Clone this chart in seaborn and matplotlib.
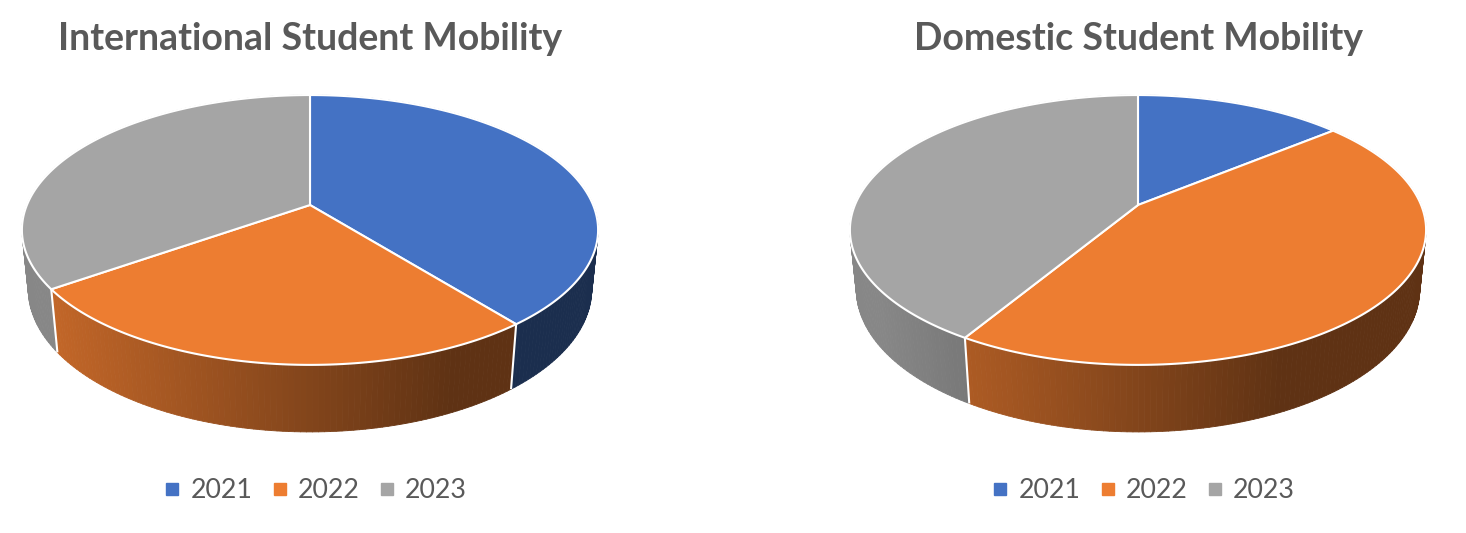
import matplotlib
matplotlib.use("Agg")
import matplotlib.pyplot as plt
from matplotlib.collections import PolyCollection
from matplotlib.colors import to_rgb
from matplotlib.lines import Line2D
import numpy as np
import seaborn as sns

# values (share of the full circle, %)
YEARS = ["2021", "2022", "2023"]
INTERNATIONAL = [39.3, 25.9, 34.8]
DOMESTIC = [14.0, 44.6, 41.4]
TITLES = ["International Student Mobility", "Domestic Student Mobility"]
COLORS = ["#4472C4", "#ED7D31", "#A5A5A5"]

W, H = 1466, 533
CENTERS = [(310, 205), (1138, 205)]
RADIUS_PX = 288
X_SCALE = 0.983             # widest point of the projected rim -> ~288 px
ELEV = np.deg2rad(26.9)     # camera elevation
DIST = 4.82                 # camera distance (in pie radii)
THICK = 0.232               # pie thickness (in pie radii)
FOCAL = RADIUS_PX * DIST
TEXT_COLOR = "#595959"


def project(theta, z):
    """theta: clockwise from 12 o'clock; z: 0 on top face, negative below.
       returns (dx, dy) in pixels, dy pointing down."""
    x = np.sin(theta)
    y = np.cos(theta)
    s, c = np.sin(ELEV), np.cos(ELEV)
    up = y * s + z * c
    dist = DIST + y * c - z * s
    return X_SCALE * FOCAL * x / dist, -FOCAL * up / dist


def shade(dx):
    u = dx / RADIUS_PX
    return 0.40 + 0.42 * np.clip((0.5 - u) / 1.4, 0, 1)


def draw_pie(ax, values, center):
    cx, cy = center
    vals = np.asarray(values, dtype=float)
    bounds = np.concatenate([[0], np.cumsum(vals) / vals.sum() * 2 * np.pi])

    # side wall, drawn back to front
    quads, cols, depth = [], [], []
    for i in range(len(vals)):
        n = max(int(np.degrees(bounds[i + 1] - bounds[i])), 2)
        th = np.linspace(bounds[i], bounds[i + 1], n + 1)
        base = np.array(to_rgb(COLORS[i]))
        for t0, t1 in zip(th[:-1], th[1:]):
            pts = [project(t0, 0), project(t1, 0),
                   project(t1, -THICK), project(t0, -THICK)]
            quads.append([(cx + px, cy + py) for px, py in pts])
            mx, _ = project(0.5 * (t0 + t1), 0)
            cols.append(tuple(np.clip(base * shade(mx), 0, 1)))
            depth.append(np.cos(0.5 * (t0 + t1)))
    order = np.argsort(depth)[::-1]
    wall = PolyCollection([quads[k] for k in order],
                          facecolors=[cols[k] for k in order],
                          edgecolors=[cols[k] for k in order],
                          linewidths=0.6, zorder=1)
    ax.add_collection(wall)

    # slice borders on the visible part of the wall
    limit = -1.0 / (DIST * np.cos(ELEV))
    for b in bounds[:-1]:
        if np.cos(b) < limit:
            (x0, y0), (x1, y1) = project(b, 0), project(b, -THICK)
            ax.plot([cx + x0, cx + x1], [cy + y0, cy + y1],
                    color="white", lw=1.5, zorder=2,
                    solid_capstyle="butt")

    # top face
    for i in range(len(vals)):
        n = max(int(np.degrees(bounds[i + 1] - bounds[i])) * 2, 4)
        th = np.linspace(bounds[i], bounds[i + 1], n + 1)
        px, py = project(th, 0)
        xs = np.concatenate([[cx], cx + px])
        ys = np.concatenate([[cy], cy + py])
        ax.fill(xs, ys, facecolor=COLORS[i], edgecolor="white",
                lw=1.5, joinstyle="round", zorder=3)


sns.set_theme(style="white")
plt.rcParams["font.family"] = ["Lato", "DejaVu Sans"]

fig = plt.figure(figsize=(W / 100, H / 100), dpi=100)
ax = fig.add_axes([0, 0, 1, 1])
ax.set_xlim(0, W)
ax.set_ylim(H, 0)
ax.axis("off")

for values, center, title in zip([INTERNATIONAL, DOMESTIC], CENTERS, TITLES):
    draw_pie(ax, values, center)
    ax.text(center[0], 50, title, ha="center", va="baseline",
            fontsize=27, fontweight="bold", color=TEXT_COLOR)
    handles = [Line2D([], [], marker="s", linestyle="none", markersize=8.6,
                      markerfacecolor=c, markeredgecolor=c) for c in COLORS]
    fig.legend(handles, YEARS, loc="center",
               bbox_to_anchor=(center[0] + 6, 491),
               bbox_transform=ax.transData,
               ncol=3, frameon=False, fontsize=19.3, handlelength=0.55,
               handletextpad=0.4, columnspacing=0.75, labelcolor=TEXT_COLOR,
               borderpad=0, borderaxespad=0)

fig.savefig("out.png", dpi=100)
